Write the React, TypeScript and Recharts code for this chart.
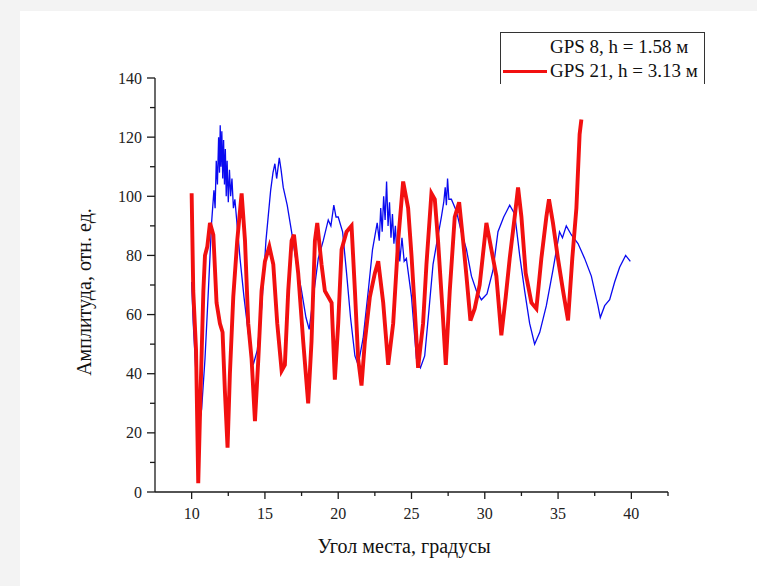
import { LineChart, Line, XAxis, YAxis, Legend } from "recharts"

// elevation angle (deg) / amplitude
const gps8X = [
  10.0, 10.11, 10.34, 10.52, 10.68, 10.91, 11.14, 11.36, 11.52, 11.6, 11.68, 11.76, 11.84, 11.9, 11.95, 12.0,
  12.06, 12.12, 12.18, 12.24, 12.3, 12.36, 12.42, 12.5, 12.58, 12.66, 12.75, 12.85, 12.95, 13.3, 13.57, 13.86,
  14.2, 14.48, 14.77, 15.07, 15.39, 15.55, 15.68, 15.8, 15.98, 16.1, 16.25, 16.52, 16.82, 17.16, 17.5, 17.8,
  18.02, 18.3, 18.64, 18.98, 19.32, 19.5, 19.7, 19.85, 20.0, 20.3, 20.57, 20.84, 21.14, 21.36, 21.7, 22.05,
  22.34, 22.66, 22.8, 22.9, 23.0, 23.1, 23.2, 23.3, 23.4, 23.5, 23.6, 23.7, 23.8, 23.9, 24.0, 24.1, 24.2,
  24.35, 24.5, 24.65, 25.0, 25.34, 25.61, 25.9, 26.2, 26.47, 26.75, 27.04, 27.2, 27.3, 27.38, 27.46, 27.55, 27.72, 28.06,
  28.4, 28.75, 29.09, 29.43, 29.77, 30.15, 30.56, 30.9, 31.29, 31.5, 31.7, 32.04, 32.38, 32.72, 33.06, 33.4,
  33.75, 34.2, 34.65, 35.1, 35.3, 35.56, 35.9, 36.36, 36.81, 37.27, 37.72, 37.88, 38.18, 38.52, 38.86, 39.2,
  39.61, 39.93,
]
const gps8Y = [
  71, 57, 36, 23, 28, 45, 68, 91, 102, 96, 112, 104, 120, 108, 124, 110,
  122, 106, 119, 104, 116, 100, 112, 98, 109, 100, 106, 96, 99, 79, 66, 54,
  43, 48, 62, 85, 102, 108, 111, 106, 113, 109, 103, 97, 88, 77, 68, 59,
  55, 66, 79, 85, 92, 90, 97, 93, 93, 88, 74, 59, 46, 43, 52, 68,
  82, 91, 85, 96, 88, 100, 92, 105, 90, 98, 86, 94, 84, 90, 80, 88, 78,
  86, 78, 79, 66, 45, 42, 46, 62, 77, 85, 93, 98, 103, 97, 106, 99, 99, 95,
  88, 82, 73, 68, 65, 67, 75, 88, 93, 95, 97, 94, 80, 68, 57, 50,
  54, 63, 75, 88, 86, 90, 87, 84, 79, 73, 63, 59, 63, 65, 71, 76,
  80, 78,
]

const gps21X = [
  10.0, 10.11, 10.3, 10.45, 10.61, 10.8, 10.91, 11.07, 11.25, 11.48, 11.7, 11.93, 12.11, 12.27, 12.45, 12.61,
  12.84, 13.11, 13.41, 13.64, 13.86, 14.09, 14.32, 14.55, 14.77, 15.0, 15.3, 15.57, 15.84, 16.14, 16.36, 16.59,
  16.82, 16.98, 17.27, 17.61, 17.95, 18.18, 18.41, 18.57, 18.86, 19.09, 19.55, 19.77, 20.0, 20.23, 20.57, 20.91,
  21.14, 21.36, 21.59, 21.82, 22.16, 22.5, 22.73, 23.07, 23.41, 23.75, 24.09, 24.43, 24.77, 25.0, 25.22, 25.45,
  25.79, 26.02, 26.36, 26.59, 26.81, 27.11, 27.34, 27.61, 27.95, 28.25, 28.52, 28.75, 29.02, 29.31, 29.65, 30.11,
  30.45, 30.79, 31.13, 31.43, 31.7, 32.04, 32.27, 32.5, 32.79, 33.18, 33.52, 33.86, 34.2, 34.38, 34.65, 34.99,
  35.34, 35.68, 35.97, 36.25, 36.47, 36.59,
]
const gps21Y = [
  101, 68, 48, 3, 34, 68, 80, 83, 91, 87, 64, 57, 54, 34, 15, 40,
  66, 85, 101, 85, 57, 45, 24, 45, 68, 78, 83, 77, 57, 41, 43, 68,
  85, 87, 74, 51, 30, 51, 85, 91, 77, 68, 64, 38, 57, 82, 88, 90,
  68, 45, 36, 51, 66, 74, 78, 64, 43, 57, 85, 105, 96, 80, 62, 42,
  57, 77, 101, 99, 85, 62, 43, 68, 93, 98, 85, 73, 58, 62, 70, 91,
  82, 73, 53, 66, 79, 93, 103, 93, 74, 64, 62, 79, 93, 99, 91, 79,
  68, 58, 79, 96, 121, 126,
]

const xTicks = [10, 12.5, 15, 17.5, 20, 22.5, 25, 27.5, 30, 32.5, 35, 37.5, 40, 42.5]
const yTicks = [0, 10, 20, 30, 40, 50, 60, 70, 80, 90, 100, 110, 120, 130, 140]

const series = [
  { name: "GPS 8, h = 1.58 м", xs: gps8X, ys: gps8Y, color: "#0a0af0", width: 1.3, swatch: false },
  { name: "GPS 21, h = 3.13 м", xs: gps21X, ys: gps21Y, color: "#f21010", width: 3.9, swatch: true },
]

const FONT = "'Liberation Serif', 'Times New Roman', serif"
const AXIS = "#1a1a1a"

function XTick(props: any) {
  const { x, y, payload } = props
  const major = payload.value % 5 === 0
  return (
    <g>
      <line x1={x} x2={x} y1={y} y2={y + (major ? 7 : 4)} stroke={AXIS} strokeWidth={1.3} />
      {major && (
        <text x={x} y={y + 27} textAnchor="middle" fontSize={16} fontFamily={FONT} fill="#222">
          {payload.value}
        </text>
      )}
    </g>
  )
}

function YTick(props: any) {
  const { x, y, payload } = props
  const major = payload.value % 20 === 0
  return (
    <g>
      <line x1={x} x2={x - (major ? 8 : 5)} y1={y} y2={y} stroke={AXIS} strokeWidth={1.3} />
      {major && (
        <text x={x - 13} y={y + 5.5} textAnchor="end" fontSize={16} fontFamily={FONT} fill="#222">
          {payload.value}
        </text>
      )}
    </g>
  )
}

function LegendBox() {
  return (
    <div
      style={{
        width: 205,
        height: 52,
        borderLeft: "1.5px solid #333",
        borderRight: "1.5px solid #333",
        borderTop: "1.5px solid #333",
        boxSizing: "border-box",
        fontFamily: FONT,
        fontSize: 19,
        color: "#111",
        paddingTop: 2,
      }}
    >
      {series.map((s) => (
        <div key={s.name} style={{ display: "flex", alignItems: "center", height: 24 }}>
          <div style={{ width: 44, height: 3, marginLeft: 2, background: s.swatch ? s.color : "transparent" }} />
          <span style={{ marginLeft: 3, whiteSpace: "nowrap" }}>{s.name}</span>
        </div>
      ))}
    </div>
  )
}

export default function App() {
  return (
    <div style={{ position: "absolute", left: 0, top: 0, width: 757, height: 586, background: "#f3f3f3" }}>
      <div style={{ position: "absolute", left: 20, top: 11, width: 737, height: 575, background: "#fff" }} />
      <div style={{ position: "absolute", left: 0, top: 0 }}>
        <LineChart width={757} height={586} margin={{ top: 78, right: 89, bottom: 54, left: 95 }}>
          <XAxis
            type="number"
            dataKey="x"
            domain={[7.5, 42.5]}
            ticks={xTicks}
            interval={0}
            tick={XTick}
            tickLine={false}
            tickSize={0}
            tickMargin={0}
            height={40}
            axisLine={{ stroke: AXIS, strokeWidth: 1.3 }}
            allowDataOverflow
          />
          <YAxis
            type="number"
            domain={[0, 140]}
            ticks={yTicks}
            interval={0}
            tick={YTick}
            tickLine={false}
            tickSize={0}
            tickMargin={0}
            width={60}
            axisLine={{ stroke: AXIS, strokeWidth: 1.3 }}
          />
          <Legend
            layout="horizontal"
            verticalAlign="middle"
            align="center"
            content={() => <LegendBox />}
            wrapperStyle={{ position: "absolute", left: 500, top: 32, width: 206 }}
          />
          {series.map((s) => (
            <Line
              key={s.name}
              name={s.name}
              data={s.xs.map((x, i) => ({ x, y: s.ys[i] }))}
              dataKey="y"
              stroke={s.color}
              strokeWidth={s.width}
              dot={false}
              strokeLinejoin="miter"
              isAnimationActive={false}
            />
          ))}
        </LineChart>
      </div>
      <div
        style={{
          position: "absolute",
          left: 313,
          top: 535,
          width: 182,
          textAlign: "center",
          fontFamily: FONT,
          fontSize: 20,
          color: "#111",
          whiteSpace: "nowrap",
        }}
      >
        Угол места, градусы
      </div>
      <div
        style={{
          position: "absolute",
          left: 84,
          top: 292,
          transform: "translate(-50%, -50%) rotate(-90deg)",
          fontFamily: FONT,
          fontSize: 20,
          color: "#111",
          whiteSpace: "nowrap",
        }}
      >
        Амплитуда, отн. ед.
      </div>
    </div>
  )
}
